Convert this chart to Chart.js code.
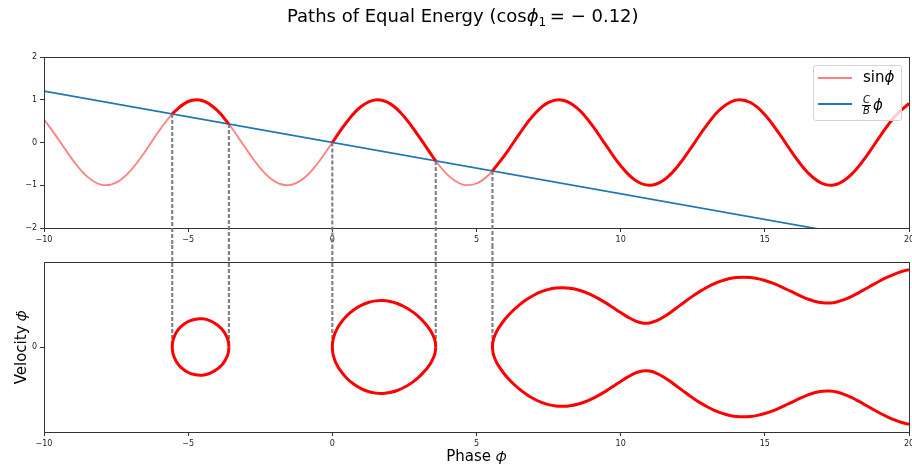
<!DOCTYPE html>
<html>
<head>
<meta charset="utf-8">
<script src="https://cdn.jsdelivr.net/npm/chart.js@4.4.1/dist/chart.umd.min.js"></script>
<style>
  html, body { margin: 0; padding: 0; background: #fff; }
  body { width: 912px; height: 470px; position: relative; overflow: hidden; font-family: 'DejaVu Sans', sans-serif; color: #000; }
  canvas { position: absolute; left: 0; }
  #top { top: 0; }
  #bottom { top: 245px; }
  #title { position: absolute; left: 287px; top: 7px; font-size: 18px; line-height: 1; white-space: nowrap; }
  #title sub { font-size: 12px; vertical-align: -4px; line-height: 0; }
  #legend { position: absolute; left: 813px; top: 65px; width: 89px; height: 56px; box-sizing: border-box;
            border: 1px solid #d4d4d4; border-radius: 3px; background: rgba(255,255,255,0.8); }
  .lline { position: absolute; left: 818px; width: 34px; height: 2px; }
  .ltext { position: absolute; left: 863px; font-size: 15px; line-height: 1; white-space: nowrap; }
  .frac { display: inline-flex; flex-direction: column; align-items: center; font-size: 10px; font-style: italic; line-height: 1; vertical-align: middle; margin-right: 2px; }
  .frac span:first-child { border-bottom: 1px solid #000; padding: 0 1px; }
</style>
</head>
<body>
<canvas id="top" width="912" height="245"></canvas>
<canvas id="bottom" width="912" height="225"></canvas>
<div id="title">Paths of Equal Energy (cos<i>ϕ</i><sub>1</sub>&thinsp;= − 0.12)</div>
<div id="legend"></div>
<div class="lline" style="top:77px;background:#ff8080;"></div>
<div class="ltext" style="top:70px;">sin<i>ϕ</i></div>
<div class="lline" style="top:103px;background:#1f77b4;"></div>
<div class="ltext" style="top:95px;left:862px;"><span class="frac"><span>C</span><span>B</span></span><i>ϕ</i></div>
<script>
// ---------- data ----------
const phi = [-10,-9.5,-9,-8.5,-8,-7.5,-7,-6.5,-6,-5.5,-5,-4.5,-4,-3.5,-3,-2.5,-2,-1.5,-1,-0.5,
             0,0.5,1,1.5,2,2.5,3,3.5,4,4.5,5,5.5,6,6.5,7,7.5,8,8.5,9,9.5,
             10,10.5,11,11.5,12,12.5,13,13.5,14,14.5,15,15.5,16,16.5,17,17.5,18,18.5,19,19.5,20];
const sinPhi = [0.544,0.075,-0.412,-0.798,-0.989,-0.938,-0.657,-0.215,0.279,0.706,0.959,0.978,0.757,0.351,-0.141,-0.598,-0.909,-0.997,-0.841,-0.479,
                0,0.479,0.841,0.997,0.909,0.598,0.141,-0.351,-0.757,-0.978,-0.959,-0.706,-0.279,0.215,0.657,0.938,0.989,0.798,0.412,-0.075,
                -0.544,-0.880,-1.000,-0.875,-0.537,-0.066,0.420,0.804,0.991,0.935,0.650,0.206,-0.288,-0.712,-0.961,-0.976,-0.751,-0.342,0.150,0.605,0.913];
const linePhi = [-10, 20];
const lineVals = [1.2, -2.4];
const crossPhi = [-5.553, -3.587, 0, 3.587, 5.553];
const crossSin = [0.666, 0.430, 0, -0.430, -0.666];

const loop1Phi = [-5.553,-5.53,-5.5,-5.45,-5.4,-5.25,-5.0,-4.75,-4.5,-4.25,-4.0,-3.85,-3.75,-3.65,-3.62,-3.6,-3.587];
const loop1Vel = [0,0.141,0.214,0.293,0.354,0.478,0.599,0.655,0.662,0.621,0.526,0.434,0.349,0.221,0.160,0.102,0];
const loop2Phi = [0,0.02,0.06,0.12,0.25,0.5,0.75,1.0,1.25,1.5,1.75,2.0,2.25,2.5,2.75,3.0,3.25,3.4,3.5,3.55,3.57,3.587];
const loop2Vel = [0,0.150,0.259,0.366,0.527,0.734,0.878,0.980,1.048,1.085,1.093,1.072,1.024,0.948,0.844,0.708,0.531,0.391,0.263,0.170,0.114,0];
const loop3Phi = [5.553,5.57,5.6,5.65,5.75,6.0,6.25,6.5,6.75,7.0,7.25,7.5,7.75,8.0,8.25,8.5,8.75,9.0,9.25,9.5,9.75,
                  10.0,10.25,10.5,10.75,11.0,11.25,11.5,11.75,12.0,12.25,12.5,12.75,13.0,13.25,13.5,13.75,14.0,14.25,14.5,14.75,
                  15.0,15.25,15.5,15.75,16.0,16.25,16.5,16.75,17.0,17.25,17.5,17.75,18.0,18.25,18.5,18.75,19.0,19.25,19.5,19.75,20.0];
const loop3Vel = [0,0.121,0.202,0.294,0.427,0.664,0.847,0.997,1.122,1.224,1.301,1.356,1.387,1.396,1.383,1.348,1.294,1.221,1.133,1.032,0.922,
                  0.810,0.704,0.616,0.566,0.566,0.618,0.710,0.825,0.950,1.077,1.197,1.309,1.407,1.491,1.557,1.605,1.634,1.644,1.636,1.609,
                  1.565,1.508,1.437,1.359,1.278,1.198,1.126,1.070,1.039,1.035,1.060,1.113,1.187,1.275,1.370,1.467,1.559,1.643,1.716,1.776,1.820];

const xTicks = [-10, -5, 0, 5, 10, 15, 20];
const yTicksTop = [-2, -1, 0, 1, 2];
const yTicksBottom = [0];

// ---------- helpers ----------
const FONT = 'DejaVu Sans';
Chart.defaults.font.family = FONT;
const fmt = v => (v < 0 ? '\u2212' + Math.abs(v) : String(v));

function boldSeg(i0, i1) {
  const lo = crossPhi[i0];
  const hi = i1 == null ? Infinity : crossPhi[i1];
  const pts = [{x: lo, y: crossSin[i0]}];
  phi.forEach((p, k) => { if (p > lo && p < hi) pts.push({x: p, y: sinPhi[k]}); });
  if (i1 != null) pts.push({x: hi, y: crossSin[i1]});
  return pts;
}
function loopPath(ph, v) {
  const pts = [];
  for (let i = ph.length - 1; i >= 0; i--) pts.push({x: ph[i], y: v[i]});
  for (let i = 1; i < ph.length; i++) pts.push({x: ph[i], y: -v[i]});
  return pts;
}

const framePlugin = {
  id: 'frame',
  afterDatasetsDraw(chart) {
    const {ctx, chartArea: a} = chart;
    ctx.save();
    ctx.strokeStyle = '#333';
    ctx.lineWidth = 1;
    const l = Math.round(a.left) + 0.5, t = Math.round(a.top) + 0.5;
    const r = Math.round(a.right) + 0.5, b = Math.round(a.bottom) + 0.5;
    ctx.strokeRect(l, t, r - l, b - t);
    ctx.restore();
  }
};
function dashStyle(ctx) {
  ctx.strokeStyle = 'rgba(118,118,118,0.9)';
  ctx.lineWidth = 2.2;
  ctx.setLineDash([4, 2]);
}
const dashTop = {
  id: 'dashTop',
  afterDatasetsDraw(chart) {
    const {ctx, scales: {x, y}} = chart;
    ctx.save(); dashStyle(ctx);
    crossPhi.forEach((p, i) => {
      const px = x.getPixelForValue(p);
      ctx.beginPath();
      ctx.moveTo(px, y.getPixelForValue(crossSin[i]));
      ctx.lineTo(px, chart.height);
      ctx.stroke();
    });
    ctx.restore();
  }
};
const dashBottom = {
  id: 'dashBottom',
  beforeDatasetsDraw(chart) {
    const {ctx, scales: {x, y}} = chart;
    ctx.save(); dashStyle(ctx);
    crossPhi.forEach((p) => {
      const px = x.getPixelForValue(p);
      ctx.beginPath();
      ctx.moveTo(px, 0);
      ctx.lineTo(px, y.getPixelForValue(0));
      ctx.stroke();
    });
    ctx.restore();
  }
};

function xScale(height, withTitle) {
  return {
    type: 'linear', min: -10, max: 20,
    afterBuildTicks: s => { s.ticks = xTicks.map(v => ({value: v})); },
    afterFit: s => { s.height = height; s.paddingLeft = 0; s.paddingRight = 0; },
    grid: {drawOnChartArea: false, drawTicks: true, tickLength: 4, color: '#333', lineWidth: 1},
    border: {display: false},
    ticks: {font: {family: FONT, size: 8}, color: '#222', padding: 3, maxRotation: 0, autoSkip: false, callback: fmt},
    title: withTitle ? {display: true, text: 'Phase \u{1D719}', font: {family: FONT, size: 15}, color: '#000', padding: {top: 0, bottom: 4}} : {display: false}
  };
}
function yScale(min, max, tickVals, titleText) {
  return {
    type: 'linear', min, max,
    afterBuildTicks: s => { s.ticks = tickVals.map(v => ({value: v})); },
    afterFit: s => { s.width = 44; s.paddingTop = 0; s.paddingBottom = 0; },
    grid: {drawOnChartArea: false, drawTicks: true, tickLength: 4, color: '#333', lineWidth: 1},
    border: {display: false},
    ticks: {font: {family: FONT, size: 8}, color: '#222', padding: 3, autoSkip: false, callback: fmt},
    title: titleText ? {display: true, text: titleText, font: {family: FONT, size: 15}, color: '#000', padding: {top: 13, bottom: 0}} : {display: false}
  };
}
const common = {
  responsive: false, animation: false, devicePixelRatio: 1, events: [],
  plugins: {legend: {display: false}, tooltip: {enabled: false}},
  elements: {point: {radius: 0}}
};

new Chart(document.getElementById('top'), {
  type: 'scatter',
  data: {
    datasets: [
      {data: phi.map((x, i) => ({x, y: sinPhi[i]})), showLine: true, borderColor: '#ff8080', borderWidth: 1.8, tension: 0.4, order: 3},
      {data: linePhi.map((x, i) => ({x, y: lineVals[i]})), showLine: true, borderColor: '#1f77b4', borderWidth: 1.7, order: 2},
      {data: boldSeg(0, 1), showLine: true, borderColor: '#ff0000', borderWidth: 3, tension: 0.4, order: 1},
      {data: boldSeg(2, 3), showLine: true, borderColor: '#ff0000', borderWidth: 3, tension: 0.4, order: 1},
      {data: boldSeg(4, null), showLine: true, borderColor: '#ff0000', borderWidth: 3, tension: 0.4, order: 1}
    ]
  },
  options: Object.assign({}, common, {
    layout: {padding: {top: 57, right: 3, left: 0, bottom: 0}},
    scales: {x: xScale(17, false), y: yScale(-2, 2, yTicksTop, null)}
  }),
  plugins: [framePlugin, dashTop]
});

new Chart(document.getElementById('bottom'), {
  type: 'scatter',
  data: {
    datasets: [
      {data: loopPath(loop1Phi, loop1Vel), showLine: true, borderColor: '#ff0000', borderWidth: 3, tension: 0.4},
      {data: loopPath(loop2Phi, loop2Vel), showLine: true, borderColor: '#ff0000', borderWidth: 3, tension: 0.4},
      {data: loopPath(loop3Phi, loop3Vel), showLine: true, borderColor: '#ff0000', borderWidth: 3, tension: 0.4}
    ]
  },
  options: Object.assign({}, common, {
    layout: {padding: {top: 17, right: 3, left: 0, bottom: 0}},
    scales: {x: xScale(38, true), y: yScale(-2, 2, yTicksBottom, 'Velocity \u{1D719}\u0307')}
  }),
  plugins: [framePlugin, dashBottom]
});
</script>
</body>
</html>
